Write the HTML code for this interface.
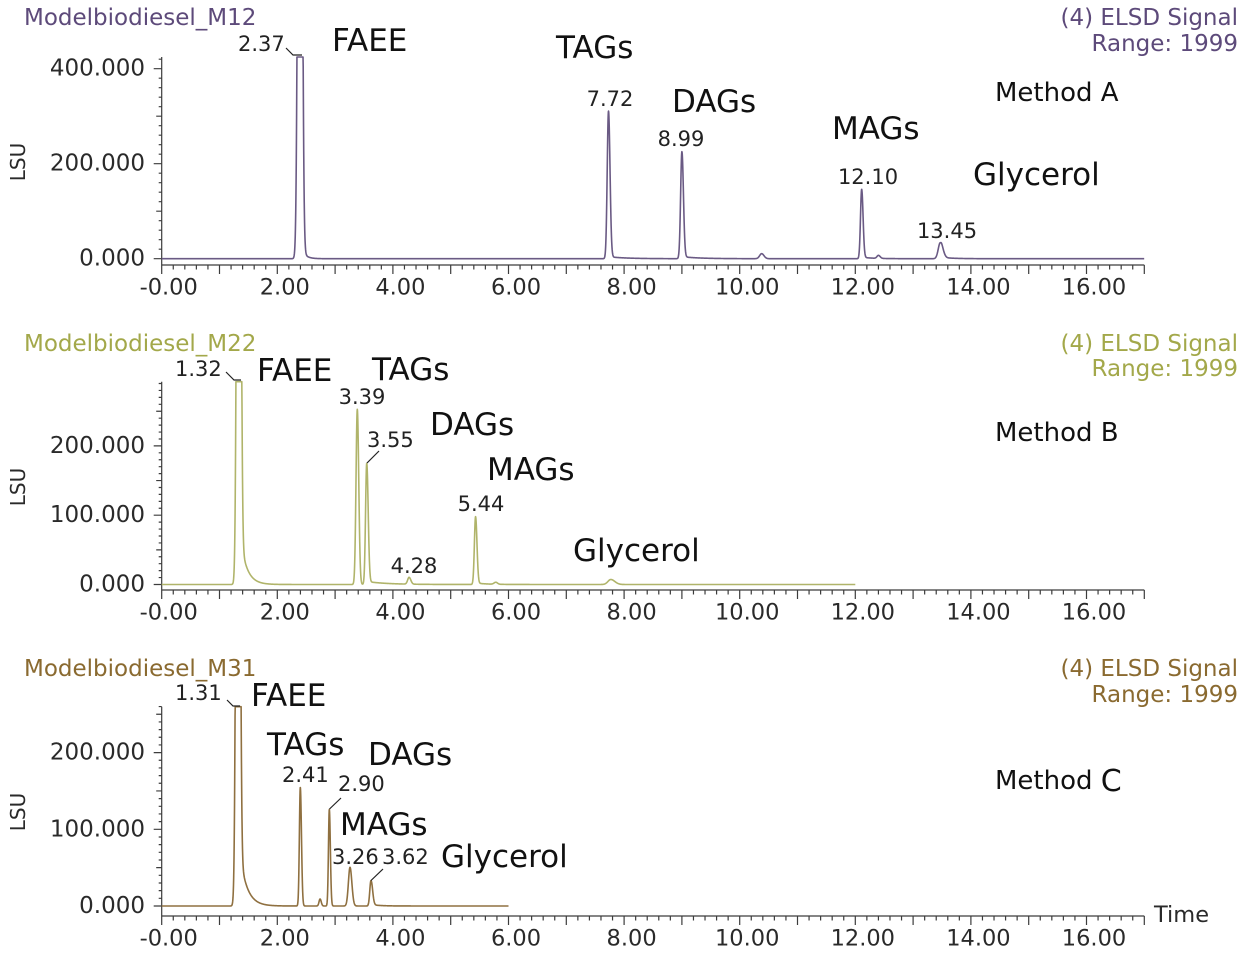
<!DOCTYPE html>
<html><head><meta charset="utf-8">
<style>
html,body{margin:0;padding:0;background:#fff;width:1254px;height:957px;overflow:hidden}
svg{display:block}
text{font-family:"DejaVu Sans","Liberation Sans",sans-serif}
.tk{font-size:22.5px;fill:#2a2a2a;text-anchor:middle;dominant-baseline:central}
.yl{font-size:23px;fill:#2a2a2a;text-anchor:end;dominant-baseline:central}
.an{font-size:31px;fill:#111;dominant-baseline:central}
.pk{font-size:21px;fill:#222;dominant-baseline:central}
.hd{font-size:23px;dominant-baseline:central}
.md{font-size:26px;fill:#111;dominant-baseline:central}
.lsu{font-size:20px;fill:#2a2a2a;text-anchor:middle;dominant-baseline:central}
</style></head>
<body>
<svg id="s" width="1254" height="957" viewBox="0 0 1254 957" xmlns="http://www.w3.org/2000/svg">
<rect width="1254" height="957" fill="#fff"/>

<!-- Panel 1 texts -->
<text class="hd" x="24" y="18" fill="#5d4a7a">Modelbiodiesel_M12</text>
<text class="hd" x="1238" y="18" fill="#5d4a7a" text-anchor="end">(4) ELSD Signal</text>
<text class="hd" x="1238" y="44" fill="#5d4a7a" text-anchor="end">Range: 1999</text>
<text class="lsu" transform="translate(18,162) rotate(-90)">LSU</text>
<text class="yl" x="145" y="68.7">400.000</text>
<text class="yl" x="145" y="163.7">200.000</text>
<text class="yl" x="145" y="258.7">0.000</text>
<text class="tk" x="168.7" y="287.5">-0.00</text>
<text class="tk" x="284.8" y="287.5">2.00</text>
<text class="tk" x="400.4" y="287.5">4.00</text>
<text class="tk" x="516" y="287.5">6.00</text>
<text class="tk" x="631.6" y="287.5">8.00</text>
<text class="tk" x="747.2" y="287.5">10.00</text>
<text class="tk" x="862.8" y="287.5">12.00</text>
<text class="tk" x="978.4" y="287.5">14.00</text>
<text class="tk" x="1094" y="287.5">16.00</text>
<text class="pk" x="238" y="44">2.37</text>
<text class="an" x="332" y="41">FAEE</text>
<text class="an" x="556" y="48">TAGs</text>
<text class="pk" x="610" y="99" text-anchor="middle">7.72</text>
<text class="an" x="672" y="102">DAGs</text>
<text class="pk" x="681" y="139" text-anchor="middle">8.99</text>
<text class="an" x="832" y="129">MAGs</text>
<text class="pk" x="868" y="177" text-anchor="middle">12.10</text>
<text class="an" x="973" y="175">Glycerol</text>
<text class="pk" x="947" y="231" text-anchor="middle">13.45</text>
<text class="md" x="995" y="93">Method A</text>

<!-- Panel 2 texts -->
<text class="hd" x="24" y="344" fill="#a3a84a">Modelbiodiesel_M22</text>
<text class="hd" x="1238" y="344" fill="#a3a84a" text-anchor="end">(4) ELSD Signal</text>
<text class="hd" x="1238" y="369" fill="#a3a84a" text-anchor="end">Range: 1999</text>
<text class="lsu" transform="translate(18,487) rotate(-90)">LSU</text>
<text class="yl" x="145" y="445.9">200.000</text>
<text class="yl" x="145" y="515.2">100.000</text>
<text class="yl" x="145" y="584.5">0.000</text>
<text class="tk" x="168.7" y="612.5">-0.00</text>
<text class="tk" x="284.8" y="612.5">2.00</text>
<text class="tk" x="400.4" y="612.5">4.00</text>
<text class="tk" x="516" y="612.5">6.00</text>
<text class="tk" x="631.6" y="612.5">8.00</text>
<text class="tk" x="747.2" y="612.5">10.00</text>
<text class="tk" x="862.8" y="612.5">12.00</text>
<text class="tk" x="978.4" y="612.5">14.00</text>
<text class="tk" x="1094" y="612.5">16.00</text>
<text class="pk" x="175" y="369">1.32</text>
<text class="an" x="257" y="371">FAEE</text>
<text class="an" x="372" y="370">TAGs</text>
<text class="pk" x="362" y="397" text-anchor="middle">3.39</text>
<text class="pk" x="367" y="440">3.55</text>
<text class="an" x="430" y="425">DAGs</text>
<text class="an" x="487" y="470">MAGs</text>
<text class="pk" x="481" y="504" text-anchor="middle">5.44</text>
<text class="pk" x="414" y="566" text-anchor="middle">4.28</text>
<text class="an" x="573" y="551">Glycerol</text>
<text class="md" x="995" y="433">Method B</text>

<!-- Panel 3 texts -->
<text class="hd" x="24" y="669" fill="#8a6a30">Modelbiodiesel_M31</text>
<text class="hd" x="1238" y="669" fill="#8a6a30" text-anchor="end">(4) ELSD Signal</text>
<text class="hd" x="1238" y="695" fill="#8a6a30" text-anchor="end">Range: 1999</text>
<text class="lsu" transform="translate(18,812) rotate(-90)">LSU</text>
<text class="yl" x="145" y="752.6">200.000</text>
<text class="yl" x="145" y="829.3">100.000</text>
<text class="yl" x="145" y="906">0.000</text>
<text class="tk" x="168.7" y="938.5">-0.00</text>
<text class="tk" x="284.8" y="938.5">2.00</text>
<text class="tk" x="400.4" y="938.5">4.00</text>
<text class="tk" x="516" y="938.5">6.00</text>
<text class="tk" x="631.6" y="938.5">8.00</text>
<text class="tk" x="747.2" y="938.5">10.00</text>
<text class="tk" x="862.8" y="938.5">12.00</text>
<text class="tk" x="978.4" y="938.5">14.00</text>
<text class="tk" x="1094" y="938.5">16.00</text>
<text x="1154" y="915" style="font-size:22.5px;fill:#2a2a2a;dominant-baseline:central">Time</text>
<text class="pk" x="175" y="693">1.31</text>
<text class="an" x="251" y="696">FAEE</text>
<text class="an" x="267" y="745">TAGs</text>
<text class="an" x="368" y="755">DAGs</text>
<text class="pk" x="282" y="775">2.41</text>
<text class="pk" x="338" y="784">2.90</text>
<text class="an" x="340" y="825">MAGs</text>
<text class="pk" x="332" y="857">3.26</text>
<text class="pk" x="382" y="857">3.62</text>
<text class="an" x="441" y="857">Glycerol</text>
<text class="md" x="995" y="781">Method <tspan style="font-size:30px">C</tspan></text>

<!-- leader lines -->
<g stroke="#222" stroke-width="1.2" fill="none">
<path d="M286 48L293 55H302"/>
<path d="M226 372L234 380H241"/>
<path d="M379 451L367 463"/>
<path d="M227 700L233 706H240"/>
<path d="M341 798L329.5 809"/>
<path d="M383 869L371 880.5"/>
</g>
</svg>
<script>
(function(){
const NS="http://www.w3.org/2000/svg";
const svg=document.getElementById('s');
function add(tag,attrs){const e=document.createElementNS(NS,tag);for(const k in attrs)e.setAttribute(k,attrs[k]);svg.insertBefore(e,svg.children[1]);return e;}
const X0=161.7,PX=57.8;
function xp(t){return X0+PX*t;}
function axes(yTop,yAx,y0,scale,step,med,maj){
  let d="M"+X0+" "+yTop+"V"+yAx+"H"+(X0+17*PX).toFixed(2);
  for(let i=0;i<=85;i++){const x=X0+i*PX/5;const L=(i%5==0)?9:4.5;d+="M"+x.toFixed(2)+" "+yAx+"v"+L;}
  for(let v=0;;v+=step){const y=y0-v*scale;if(y<yTop-0.5)break;const L=(v%maj==0)?8:(v%med==0)?5.5:3;d+="M"+(X0-L).toFixed(2)+" "+y.toFixed(2)+"H"+X0;}
  add('path',{d:d,stroke:'#3c3c3c','stroke-width':1.2,fill:'none'});
}
function trace(y0,yTop,t0,t1,peaks,color){
  const pts=[];
  for(let t=t0;t<=t1+1e-9;t+=0.003){
    let h=0;
    for(const p of peaks){
      const c=p[0],hh=p[1],sl=p[2],sr=p[3],ht=p[4]||0,tau=p[5]||1;
      const s=t<c?sl:sr;
      h+=hh*Math.exp(-0.5*Math.pow((t-c)/s,2));
      if(ht&&t>c){h+=ht*Math.exp(-(t-c)/tau)*(1-Math.exp(-Math.pow((t-c)/0.015,2)));}
    }
    let y=y0-h; if(y<yTop)y=yTop;
    pts.push(xp(t).toFixed(2)+" "+y.toFixed(2));
  }
  add('path',{d:"M"+pts.join("L"),stroke:color,'stroke-width':1.6,fill:'none','stroke-linejoin':'round'});
}
// Panel 1
trace(258.7,57,0,17,[
  [2.393,1000,0.03,0.03,14,0.07],
  [7.73,147.7,0.022,0.026,2,0.3],
  [9.0,107,0.022,0.026,2,0.3],
  [10.38,5,0.035,0.04],
  [12.11,69.4,0.02,0.024,1.5,0.2],
  [12.4,3,0.025,0.03],
  [13.47,16,0.035,0.045,1.5,0.2]
],'#6a5a84');
axes(57,265,258.7,0.475,20,100,200);
// Panel 2
trace(584.5,381.7,0,12,[
  [1.334,1000,0.028,0.028,60,0.11],
  [3.384,175.2,0.022,0.025],
  [3.547,121.2,0.02,0.025,3,0.35],
  [4.28,6.8,0.025,0.03],
  [5.43,67.8,0.02,0.024,1.5,0.2],
  [5.78,2,0.03,0.03],
  [7.77,5,0.05,0.07]
],'#b0b46a');
axes(381.7,590,584.5,0.693,10,50,100);
// Panel 3
trace(906,706.7,0,6,[
  [1.32,1000,0.028,0.028,70,0.12],
  [2.398,118.7,0.016,0.02],
  [2.74,7,0.018,0.02],
  [2.90,96.7,0.015,0.018],
  [3.258,38.7,0.028,0.032],
  [3.62,25.3,0.02,0.028,1.5,0.15]
],'#8f7040');
axes(706.7,916,906,0.767,10,50,100);
})();
</script>
</body></html>
